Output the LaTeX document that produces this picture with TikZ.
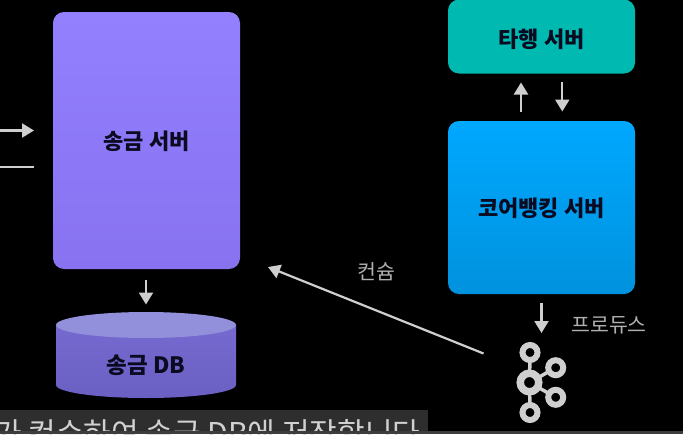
\documentclass[tikz,border=0pt]{standalone}
\usepackage{fontspec}
\setmainfont{Noto Sans CJK KR}
\usetikzlibrary{arrows.meta}
\definecolor{arrowgray}{HTML}{CFCFCF}
\definecolor{labelgray}{HTML}{B0B0B0}
\definecolor{sendtop}{HTML}{9280FF}
\definecolor{sendbot}{HTML}{8872F0}
\definecolor{teal}{HTML}{00B9B0}
\definecolor{coretop}{HTML}{00A8FF}
\definecolor{corebot}{HTML}{0092DE}
\definecolor{dbtop}{HTML}{9290DA}
\definecolor{dbbody}{HTML}{766AD0}
\definecolor{dbbot}{HTML}{6A5FC2}
\definecolor{ink}{HTML}{0A0A20}
\tikzset{
 conn/.style={draw=arrowgray,line width=2.2pt,-{Triangle[length=12pt,width=14pt,fill=arrowgray]}},
 plainline/.style={draw=arrowgray,line width=2.2pt},
 boxtxt/.style={font=\fontsize{22pt}{24pt}\selectfont\bfseries,text=ink},
 lbl/.style={font=\fontsize{20.5pt}{22pt}\selectfont,text=labelgray},
 srvbox/.style={rounded corners=11pt,inner sep=0pt},
 ring/.style={circle,draw=arrowgray,inner sep=0pt,fill=black},
}
\begin{document}
\begin{tikzpicture}[x=1pt,y=-1pt]
\useasboundingbox[fill=black] (0,0) rectangle (683,434);
\begin{scope}
\clip (0,0) rectangle (683,434);
% subtitle
\fill[black!82] (0,410) rectangle (428,434);
\node[anchor=base west,inner sep=0pt,text=black!18,font=\fontsize{30pt}{32pt}\selectfont] (sub) at (-6,444) {가 컨슈하여 송금 DB에 저장합니다};
\fill[black!76] (0,431) rectangle (683,434);
% boxes
\node[srvbox,minimum width=187pt,minimum height=257pt,top color=sendtop,bottom color=sendbot] (send) at (146.5,140.5) {};
\node[boxtxt] (sendt) at ([yshift=-1pt]send.center) {송금 서버};
\node[srvbox,minimum width=187pt,minimum height=74pt,fill=teal] (other) at (541.5,36.5) {};
\node[boxtxt] (othert) at ([yshift=-3pt]other.center) {타행 서버};
\node[srvbox,minimum width=187pt,minimum height=173pt,top color=coretop,bottom color=corebot] (core) at (541.5,207.5) {};
\node[boxtxt] (coret) at ([yshift=-1pt]core.center) {코어뱅킹 서버};
% database
\fill[top color=dbbody,bottom color=dbbot] (56,325) -- (56,385) arc[start angle=180,end angle=360,x radius=90pt,y radius=13pt] -- (236,325) -- cycle;
\fill[dbtop] (146,325) ellipse[x radius=90pt,y radius=13pt];
\node[boxtxt,font=\fontsize{22.5pt}{24pt}\selectfont\bfseries] (db) at (146,365.5) {송금 DB};
% kafka icon
\coordinate (kc) at (529.5,382.5);
\coordinate (kt) at (530,352.5);
\coordinate (kb) at (530,412.5);
\coordinate (kr) at (555.7,367.7);
\coordinate (ks) at (555.7,397.3);
\draw[arrowgray,line width=3.5pt] (kc) -- (kt) (kc) -- (kb) (kc) -- (kr) (kc) -- (ks);
\node[ring,line width=7.5pt,minimum size=18.5pt] (hub) at (kc) {};
\node[ring,line width=6pt,minimum size=15pt] (k1) at (kt) {};
\node[ring,line width=6pt,minimum size=15pt] (k2) at (kb) {};
\node[ring,line width=6pt,minimum size=15pt] (k3) at (kr) {};
\node[ring,line width=6pt,minimum size=15pt] (k4) at (ks) {};
% connectors
\coordinate (a1) at (0,130.5);
\coordinate (a2) at (34,130.5);
\coordinate (a3) at (0,167);
\coordinate (a4) at (34,167);
\draw[conn] (a1) -- (a2);
\draw[plainline] (a3) -- (a4);
\coordinate (b1) at (146,280);
\coordinate (b2) at (146,304.5);
\draw[conn] (b1) -- (b2);
\coordinate (c1) at (521,112);
\coordinate (c2) at (521,82.5);
\draw[conn] (c1) -- (c2);
\coordinate (d1) at (562.3,82);
\coordinate (d2) at (562.3,111.5);
\draw[conn] (d1) -- (d2);
\coordinate (e1) at (541.5,303);
\coordinate (e2) at (541.5,333);
\draw[conn] (e1) -- (e2);
\coordinate (f1) at (483.5,353.5);
\coordinate (f2) at (268,267);
\draw[conn] (f1) -- (f2);
% labels
\node[lbl] (cons) at (376,272) {컨슘};
\node[lbl] (prod) at (609,325.5) {프로듀스};
\end{scope}
\end{tikzpicture}
\end{document}
